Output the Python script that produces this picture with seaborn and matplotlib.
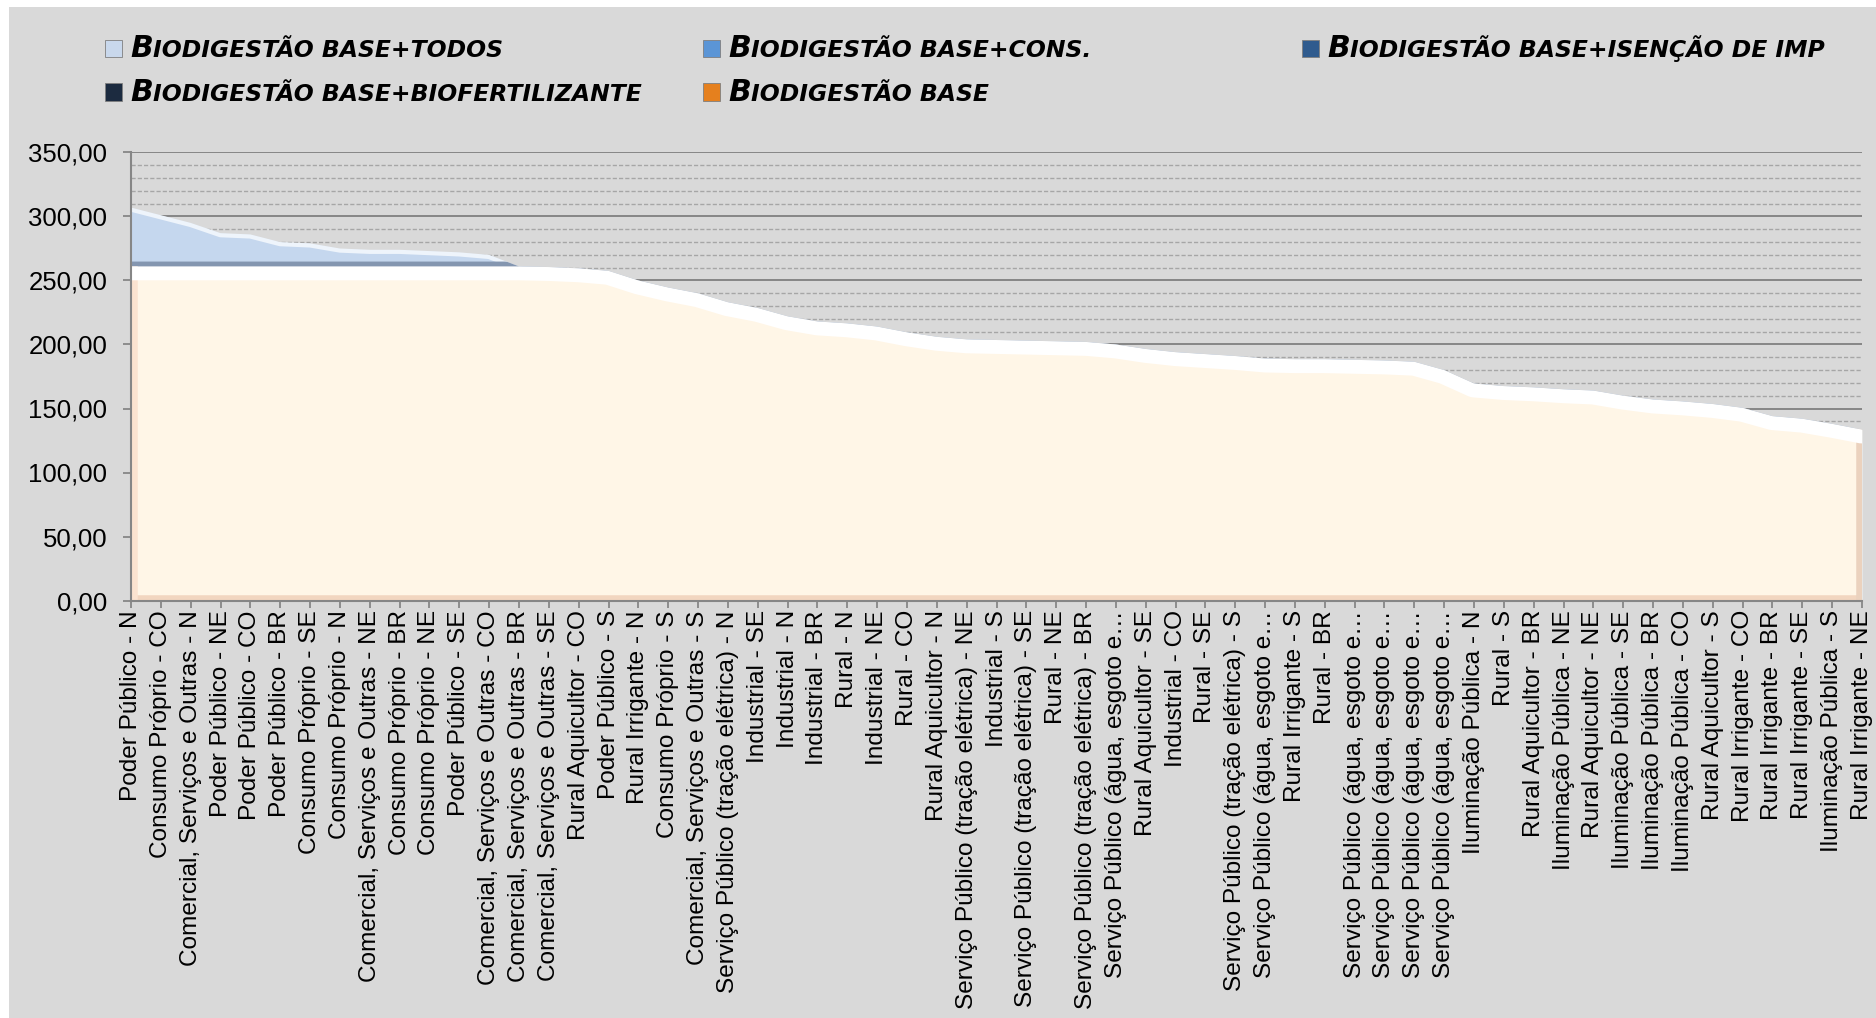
import numpy as np
import matplotlib
matplotlib.use("Agg")
import matplotlib.pyplot as plt
import seaborn as sns
from matplotlib.patches import Rectangle
from matplotlib.ticker import MultipleLocator, FuncFormatter
from matplotlib.offsetbox import HPacker, TextArea, DrawingArea, AnchoredOffsetbox

categories = [
    "Poder Público - N", "Consumo Próprio - CO", "Comercial, Serviços e Outras - N",
    "Poder Público - NE", "Poder Público - CO", "Poder Público - BR",
    "Consumo Próprio - SE", "Consumo Próprio - N", "Comercial, Serviços e Outras - NE",
    "Consumo Próprio - BR", "Consumo Próprio - NE", "Poder Público - SE",
    "Comercial, Serviços e Outras - CO", "Comercial, Serviços e Outras - BR",
    "Comercial, Serviços e Outras - SE", "Rural Aquicultor - CO", "Poder Público - S",
    "Rural Irrigante - N", "Consumo Próprio - S", "Comercial, Serviços e Outras - S",
    "Serviço Público (tração elétrica) - N", "Industrial - SE", "Industrial - N",
    "Industrial - BR", "Rural - N", "Industrial - NE", "Rural - CO",
    "Rural Aquicultor - N", "Serviço Público (tração elétrica) - NE", "Industrial - S",
    "Serviço Público (tração elétrica) - SE", "Rural - NE",
    "Serviço Público (tração elétrica) - BR", "Serviço Público (água, esgoto e…",
    "Rural Aquicultor - SE", "Industrial - CO", "Rural - SE",
    "Serviço Público (tração elétrica) - S", "Serviço Público (água, esgoto e…",
    "Rural Irrigante - S", "Rural - BR", "Serviço Público (água, esgoto e…",
    "Serviço Público (água, esgoto e…", "Serviço Público (água, esgoto e…",
    "Serviço Público (água, esgoto e…", "Iluminação Pública - N", "Rural - S",
    "Rural Aquicultor - BR", "Iluminação Pública - NE", "Rural Aquicultor - NE",
    "Iluminação Pública - SE", "Iluminação Pública - BR", "Iluminação Pública - CO",
    "Rural Aquicultor - S", "Rural Irrigante - CO", "Rural Irrigante - BR",
    "Rural Irrigante - SE", "Iluminação Pública - S", "Rural Irrigante - NE",
]

# Biodigestão base (front area)
base = [261, 261, 261, 261, 261, 261, 261, 261, 261, 261, 261, 261, 261, 261,
        260.5, 259.5, 257.5, 250, 244.5, 240, 233, 228.5, 222, 218, 216.5, 214,
        209.5, 206, 204, 203.5, 203, 202.5, 202, 200, 196.5, 194, 192.5, 191,
        189, 188.5, 188.5, 188, 187.5, 186.5, 180, 169.5, 167.5, 166.5, 165,
        164, 160, 157, 155.5, 153.5, 150.5, 144, 142, 138, 133.5]

# Biodigestão base+todos (back area, only visible above the base)
todos = [307, 301, 295, 287, 286, 280, 279, 275, 274, 274, 273, 272, 270, 261,
         260.5, 259.5, 257.5, 250, 244.5, 240, 233, 228.5, 222, 218, 216.5, 214,
         209.5, 206, 204, 203.5, 203, 202.5, 202, 200, 196.5, 194, 192.5, 191,
         189, 188.5, 188.5, 188, 187.5, 186.5, 180, 169.5, 167.5, 166.5, 165,
         164, 160, 157, 155.5, 153.5, 150.5, 144, 142, 138, 133.5]

series_names = ["Biodigestão base+todos", "Biodigestão base+cons.",
                "Biodigestão base+isenção de imp", "Biodigestão base+biofertilizante",
                "Biodigestão base"]
series_colors = ["#C9D8EC", "#5B95D6", "#2F5B8E", "#1C2B40", "#E5801E"]

sns.set_theme(style="white")
plt.rcParams["font.family"] = ["Liberation Sans", "DejaVu Sans"]

W, H = 1876, 1018
fig = plt.figure(figsize=(W / 100, H / 100), dpi=100)
fig.patch.set_facecolor("white")
fig.patches.append(Rectangle((9 / W, 0), 1, 1 - 7 / H, transform=fig.transFigure,
                             facecolor="#D9D9D9", edgecolor="none", zorder=-10))

ax = fig.add_axes([131 / W, 1 - 600.5 / H, (1862 - 131) / W, (600.5 - 152.5) / H])
ax.set_facecolor("none")

x = np.arange(len(categories))

blue = ax.fill_between(x, todos, color="#C5D7EE", lw=0, zorder=2)
blue_path = blue.get_paths()[0]
hl = ax.plot(x, todos, color="#EEF4FB", lw=6, zorder=2.2, solid_joinstyle="round")[0]
hl.set_clip_path(blue_path, blue.get_transform())
sh = ax.plot(x, base, color="#8496B0", lw=7, zorder=2.3)[0]
sh.set_clip_path(blue_path, blue.get_transform())

cream = ax.fill_between(x, base, color="#FFF6E7", lw=0, zorder=3)
cream_path = cream.get_paths()[0]
sns.lineplot(x=x, y=base, ax=ax, color="white", lw=20, zorder=3.2)
top_line = ax.lines[-1]
top_line.set_solid_joinstyle("round")
top_line.set_clip_path(cream_path, cream.get_transform())
for xs, ys, c, w in [([0, 58], [0, 0], "#F2D6C0", 9),
                     ([0, 0], [0, 300], "#FBE3D0", 9),
                     ([58, 58], [0, 300], "#EBD2BE", 9)]:
    ln = ax.plot(xs, ys, color=c, lw=w, zorder=3.1)[0]
    ln.set_clip_path(cream_path, cream.get_transform())

ax.set_xlim(0, len(categories) - 1)
ax.set_ylim(0, 350)
ax.set_xticks(x)
ax.set_xticklabels(categories, rotation=90, fontsize=17.6, color="black")
ax.yaxis.set_major_locator(MultipleLocator(50))
ax.yaxis.set_minor_locator(MultipleLocator(10))
ax.yaxis.set_major_formatter(FuncFormatter(lambda v, p: f"{v:.2f}".replace(".", ",")))
ax.tick_params(axis="y", which="major", labelsize=18.5, length=6, width=1.3,
               color="#868686", pad=11, left=True, labelcolor="black")
ax.tick_params(axis="x", which="major", length=5, width=1.3, color="#868686",
               pad=2, bottom=True)
ax.tick_params(which="minor", length=0)

ax.set_axisbelow(True)
ax.grid(which="major", axis="y", color="#868686", lw=1.4, ls="-", zorder=0)
ax.grid(which="minor", axis="y", color="#A6A6A6", lw=1.0, ls=(0, (3, 1.5)), zorder=0)
ax.grid(which="major", axis="x", visible=False)
for side in ["top", "right"]:
    ax.spines[side].set_visible(False)
for side in ["left", "bottom"]:
    ax.spines[side].set_color("#868686")
    ax.spines[side].set_linewidth(1.5)
    ax.spines[side].set_zorder(4)

# legend laid out like the Excel original (3 fixed columns, small caps)
legend_pos = [(105, 48.2), (703, 48.2), (1302, 48.2), (105, 92.1), (703, 92.1)]
legend_font = ["DejaVu Sans", "Liberation Sans"]
for k, (px, py) in enumerate(legend_pos):
    name = series_names[k]
    da = DrawingArea(12.5, 12.5, 0, 0)
    da.add_artist(Rectangle((0, 0), 12.5, 12.5, facecolor=series_colors[k],
                            edgecolor="#7F7F7F", lw=0.6))
    big = TextArea(name[0], textprops=dict(fontsize=21.5, fontweight="bold", family=legend_font,
                                           fontstyle="italic", color="black"))
    small = TextArea(name[1:].upper(), textprops=dict(fontsize=16.9, fontweight="bold",
                                                      family=legend_font,
                                                      fontstyle="italic", color="black"))
    txt = HPacker(children=[big, small], align="baseline", pad=0, sep=0)
    box = HPacker(children=[da, txt], align="center", pad=0, sep=6)
    anchored = AnchoredOffsetbox(loc="center left", child=box, frameon=False,
                                 bbox_to_anchor=(px / W, 1 - py / H),
                                 bbox_transform=fig.transFigure, pad=0, borderpad=0)
    fig.add_artist(anchored)

fig.savefig("out.png", dpi=100)
